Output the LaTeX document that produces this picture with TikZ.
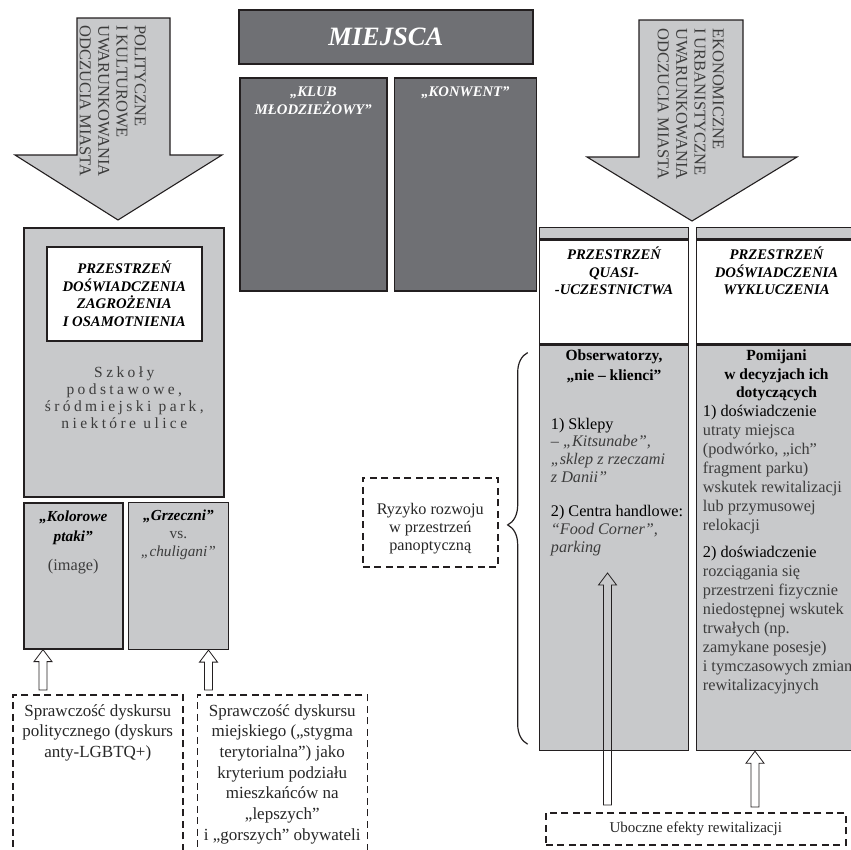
\documentclass[tikz,border=0pt]{standalone}
\usepackage{fontspec}
\setmainfont{Liberation Serif}
\usetikzlibrary{positioning}
\usetikzlibrary{calc}
\usetikzlibrary{decorations.pathreplacing}

\definecolor{lightfill}{HTML}{C8C9CB}
\definecolor{darkfill}{HTML}{6F7074}
\definecolor{edgeline}{HTML}{231F20}
\definecolor{textgray}{HTML}{3C3C3C}

\newcommand{\hollowup}[2]{%
  \draw[hollowarrow] ($(#1)+(-4,0)$) -- ($(#2)+(-4,12)$) -- ($(#2)+(-9,12)$) -- (#2)
    -- ($(#2)+(9,12)$) -- ($(#2)+(4,12)$) -- ($(#1)+(4,0)$) -- cycle;}

\begin{document}
\begin{tikzpicture}[x=1pt, y=-1pt,
                graysquarednode/.style={rectangle, draw=edgeline, fill=lightfill, line width=1.6pt, inner sep=0pt, anchor=north west},
                darksquarednode/.style={rectangle, draw=edgeline, fill=darkfill, line width=1.6pt, inner sep=0pt, anchor=north west},
                whitesquarednode/.style={rectangle, draw=edgeline, fill=white, line width=1.6pt, inner sep=0pt, anchor=north west},
                dashedsquarednode/.style={rectangle, draw=edgeline, dash pattern=on 7pt off 4.5pt, line width=1.5pt, inner sep=0pt, anchor=north west},
                bigarrow/.style={draw=edgeline, fill=lightfill, line width=1.1pt},
                hollowarrow/.style={draw=edgeline, line width=0.8pt},
                titletext/.style={inner sep=0pt, align=center, font=\fontsize{14.7}{17.5}\selectfont\bfseries\itshape},
                arrowtext/.style={inner sep=0pt, align=left, rotate=-90, anchor=north west, text=textgray, font=\fontsize{16.5}{18.3}\selectfont},
                bodytext/.style={inner sep=0pt, text=textgray, font=\fontsize{16.3}{19}\selectfont},
                ]
                \useasboundingbox (0,0) rectangle (851,849);

                % arrows from the top
                \draw[bigarrow] (77,18) -- (170,18) -- (170,155) -- (222,155) -- (118,220) -- (15,155) -- (77,155) -- cycle;
                \node[arrowtext] (politext) at (146,25) {POLITYCZNE\\I KULTUROWE\\UWARUNKOWANIA\\ODCZUCIA MIASTA};
                \draw[bigarrow] (639,20) -- (743,20) -- (743,157) -- (797,157) -- (692,221) -- (587,157) -- (639,157) -- cycle;
                \node[arrowtext] (ekotext) at (724,28) {EKONOMICZNE\\I URBANISTYCZNE\\UWARUNKOWANIA\\ODCZUCIA MIASTA};

                % places
                \node[darksquarednode, minimum width=294pt, minimum height=54pt, text=white, font=\fontsize{26.5}{30}\selectfont\bfseries\itshape] (miejsca) at (238,9) {MIEJSCA};
                \node[darksquarednode, minimum width=147pt, minimum height=213pt] (klub) at (239,77) {};
                \node[darksquarednode, minimum width=142pt, minimum height=213pt, right=6pt of klub] (konwent) {};
                \node[titletext, text=white, below=10pt of klub.north] (klubtext) {„KLUB\\MŁODZIEŻOWY”};
                \node[titletext, text=white, below=10pt of konwent.north] (konwenttext) {„KONWENT”};

                % left column
                \node[graysquarednode, minimum width=200pt, minimum height=269pt] (zagrozenie) at (23,227) {};
                \node[whitesquarednode, titletext, minimum width=155pt, minimum height=94pt] (zagrtitle) at (46,246) {PRZESTRZEŃ\\DOŚWIADCZENIA\\ZAGROŻENIA\\I OSAMOTNIENIA};
                \node[bodytext, align=center, below=25pt of zagrtitle, font=\fontsize{15.5}{17}\selectfont\addfontfeature{LetterSpace=22}] (szkoly) {Szkoły\\podstawowe,\\śródmiejski park,\\niektóre ulice};
                \node[graysquarednode, minimum width=99pt, minimum height=146pt] (kolor) at (23,502) {};
                \node[graysquarednode, minimum width=100pt, minimum height=147pt, right=4pt of kolor] (grzeczni) {};
                \node[titletext, font=\fontsize{15.3}{20}\selectfont\bfseries\itshape, below=9pt of kolor.north] (kolortext) {„Kolorowe\\ptaki”};
                \node[bodytext, below=14pt of kolortext] (image) {(image)};
                \node[bodytext, align=center, font=\fontsize{15.3}{18}\selectfont, below=8pt of grzeczni.north] (grzecznitext) {\textcolor{black}{\bfseries\itshape „Grzeczni”}\\vs.\\\textit{„chuligani”}};

                \node[dashedsquarednode, minimum width=170pt, minimum height=170pt] (dyskurs1) at (12,694) {};
                \node[dashedsquarednode, minimum width=170pt, minimum height=170pt, right=13pt of dyskurs1] (dyskurs2) {};
                \node[bodytext, text=black!85, align=center, font=\fontsize{17}{20.7}\selectfont, below=10pt of dyskurs1.north] (dyskurs1text) {Sprawczość dyskursu\\politycznego (dyskurs\\anty-LGBTQ+)};
                \node[bodytext, text=black!85, align=center, font=\fontsize{17}{20.7}\selectfont, below=10pt of dyskurs2.north] (dyskurs2text) {Sprawczość dyskursu\\miejskiego („stygma\\terytorialna”) jako\\kryterium podziału\\mieszkańców na\\„lepszych”\\i „gorszych” obywateli};

                \coordinate (kolorfoot) at ([xshift=31pt,yshift=4pt]dyskurs1.north west);
                \coordinate (kolortip) at (kolorfoot |- kolor.south);
                \hollowup{kolorfoot}{kolortip}
                \coordinate (grzecznifoot) at ([xshift=12pt,yshift=4pt]dyskurs2.north west);
                \coordinate (grzecznitip) at (grzecznifoot |- grzeczni.south);
                \hollowup{grzecznifoot}{grzecznitip}

                % right columns
                \node[graysquarednode, line width=1pt, minimum width=149pt, minimum height=11pt] (quasistrip) at (539,227) {};
                \node[whitesquarednode, minimum width=149pt, minimum height=104pt, below=0pt of quasistrip] (quasi) {};
                \node[graysquarednode, minimum width=149pt, minimum height=405pt, below=0pt of quasi] (obserw) {};
                \node[graysquarednode, line width=1pt, minimum width=160pt, minimum height=11pt, right=7pt of quasistrip] (wykstrip) {};
                \node[whitesquarednode, minimum width=160pt, minimum height=104pt, below=0pt of wykstrip] (wyk) {};
                \node[graysquarednode, minimum width=160pt, minimum height=405pt, below=0pt of wyk] (pomijani) {};

                \node[titletext, below=8pt of quasi.north] (quasititle) {PRZESTRZEŃ\\QUASI-\\-UCZESTNICTWA};
                \node[titletext, below=8pt of wyk.north] (wyktitle) {PRZESTRZEŃ\\DOŚWIADCZENIA\\WYKLUCZENIA};

                \node[bodytext, text=black, align=center, font=\fontsize{15.5}{19.5}\selectfont\bfseries, below=5pt of obserw.north] (obstitle) {Obserwatorzy,\\„nie – klienci”};
                \node[bodytext, align=left, anchor=north west, font=\fontsize{16.2}{17.7}\selectfont] (sklepy) at ([xshift=12pt,yshift=-73pt]obserw.north west) {\textcolor{black}{1) Sklepy}\\– \textit{„Kitsunabe”,}\\\textit{„sklep z rzeczami}\\\textit{z Danii”}\\[17pt]\textcolor{black}{2) Centra handlowe:}\\\textit{“Food Corner”,}\\\textit{parking}};
                \node[bodytext, text=black, align=center, font=\fontsize{15.5}{18.5}\selectfont\bfseries, below=5pt of pomijani.north] (pomtitle) {Pomijani\\w decyzjach ich\\dotyczących};
                \node[bodytext, align=left, anchor=north west] (utrata) at ([xshift=7pt,yshift=-60pt]pomijani.north west) {\textcolor{black}{1) doświadczenie}\\utraty miejsca\\(podwórko, „ich”\\fragment parku)\\wskutek rewitalizacji\\lub przymusowej\\relokacji\\[8pt]\textcolor{black}{2) doświadczenie}\\rozciągania się\\przestrzeni fizycznie\\niedostępnej wskutek\\trwałych (np.\\zamykane posesje)\\i tymczasowych zmian\\rewitalizacyjnych};

                \draw[decorate, decoration={brace, amplitude=20pt, aspect=0.56}, line width=1.2pt, draw=edgeline] ([xshift=-11pt,yshift=7pt]obserw.south west) -- ([xshift=-11pt,yshift=-8pt]obserw.north west);
                \node[dashedsquarednode, minimum width=135pt, minimum height=89pt] (ryzyko) at (362,477) {};
                \node[bodytext, align=center, text=black!85, font=\fontsize{16.2}{18}\selectfont] (ryzykotext) at ([yshift=-6pt]ryzyko.center) {Ryzyko rozwoju\\w przestrzeń\\panoptyczną};

                \node[dashedsquarednode, minimum width=300pt, minimum height=32pt, text=black!85, font=\fontsize{15}{18}\selectfont] (uboczne) at (545,812) {Uboczne efekty rewitalizacji};
                \coordinate (quasifoot) at ([xshift=62.5pt,yshift=7pt]uboczne.north west);
                \coordinate (quasitip) at ([yshift=232pt]quasifoot);
                \hollowup{quasifoot}{quasitip}
                \coordinate (wykfoot) at ([xshift=210pt,yshift=5pt]uboczne.north west);
                \coordinate (wyktip) at (wykfoot |- pomijani.south);
                \hollowup{wykfoot}{wyktip}
\end{tikzpicture}
\end{document}
